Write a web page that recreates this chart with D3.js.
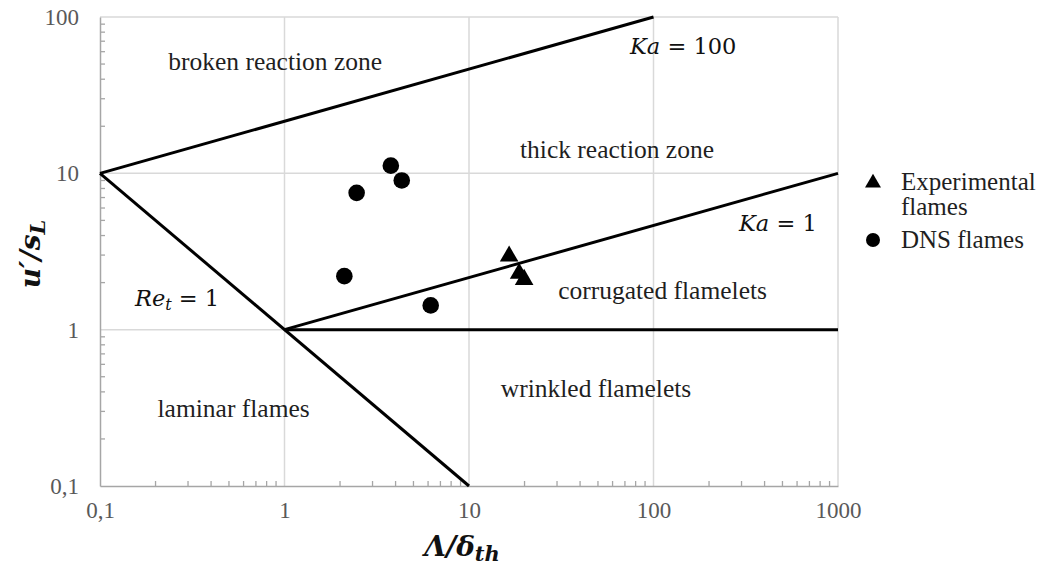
<!DOCTYPE html>
<html>
<head>
<meta charset="utf-8">
<script src="https://cdn.jsdelivr.net/npm/d3@7/dist/d3.min.js"></script>
<style>
  html, body { margin: 0; padding: 0; background: #fff; }
  svg { display: block; }
  .tick text { font-family: "Liberation Serif", serif; fill: #595959; }
</style>
</head>
<body>
<svg id="chart" width="1040" height="574"></svg>
<script>
// Regime boundaries of the turbulent premixed combustion diagram (Λ/δth, u'/sL)
const lineKa100 = [[0.1, 10], [100, 100]];
const lineKa1 = [[1, 1], [1000, 10]];
const lineRe1 = [[0.1, 10], [10, 0.1]];
const lineUnity = [[1, 1], [1000, 1]];

// Flame data sets
const dnsFlames = [[2.11, 2.2], [2.46, 7.5], [3.77, 11.2], [4.32, 9.0], [6.2, 1.43]];
const expFlames = [[16.5, 2.95], [18.7, 2.29], [19.9, 2.09]];

// Axis ticks
const xTicks = [0.1, 1, 10, 100, 1000];
const yTicks = [0.1, 1, 10, 100];

// Regime names
const regimeLabels = [
  { text: "broken reaction zone", x: 0.89, y: 45.9 },
  { text: "thick reaction zone", x: 63.4, y: 12.5 },
  { text: "corrugated flamelets", x: 112, y: 1.57 },
  { text: "wrinkled flamelets", x: 48.8, y: 0.371 },
  { text: "laminar flames", x: 0.53, y: 0.276 }
];

const svg = d3.select("#chart");
const x = d3.scaleLog().domain([0.1, 1000]).range([100, 838]);
const y = d3.scaleLog().domain([0.1, 100]).range([486, 17]);
const fmt = d => String(d).replace(".", ",");

// Gridlines at every decade
const grid = svg.append("g");
grid.selectAll("line.gx").data(xTicks.slice(1)).join("line")
  .attr("x1", d => x(d)).attr("x2", d => x(d))
  .attr("y1", y(0.1)).attr("y2", y(100))
  .attr("stroke", "#d9d9d9").attr("stroke-width", 1.5);
grid.selectAll("line.gy").data(yTicks.slice(1)).join("line")
  .attr("x1", x(0.1)).attr("x2", x(1000))
  .attr("y1", d => y(d)).attr("y2", d => y(d))
  .attr("stroke", "#d9d9d9").attr("stroke-width", 1.5);

// Minor ticks (2..9 within each decade)
const minor = (lo, hi) => {
  const out = [];
  for (let e = lo; e < hi; e++) for (let m = 2; m <= 9; m++) out.push(m * Math.pow(10, e));
  return out;
};
svg.append("g").selectAll("line").data(minor(-1, 3)).join("line")
  .attr("x1", d => x(d)).attr("x2", d => x(d))
  .attr("y1", y(0.1)).attr("y2", y(0.1) - 5)
  .attr("stroke", "#a6a6a6").attr("stroke-width", 1.3);
svg.append("g").selectAll("line").data(minor(-1, 2)).join("line")
  .attr("x1", x(0.1)).attr("x2", x(0.1) + 5)
  .attr("y1", d => y(d)).attr("y2", d => y(d))
  .attr("stroke", "#a6a6a6").attr("stroke-width", 1.3);

// Axes
const xAxis = svg.append("g").attr("transform", `translate(0,${y(0.1)})`)
  .call(d3.axisBottom(x).tickValues(xTicks).tickFormat(fmt).tickSize(0).tickPadding(16));
const yAxis = svg.append("g").attr("transform", `translate(${x(0.1)},0)`)
  .call(d3.axisLeft(y).tickValues(yTicks).tickFormat(fmt).tickSize(0).tickPadding(21));
[xAxis, yAxis].forEach(a => {
  a.select(".domain").attr("stroke", "#a6a6a6").attr("stroke-width", 1.5);
  a.selectAll(".tick text").attr("font-size", 23);
});

// Regime boundary lines
const line = d3.line().x(d => x(d[0])).y(d => y(d[1]));
svg.append("g").selectAll("path")
  .data([lineKa100, lineKa1, lineRe1, lineUnity]).join("path")
  .attr("d", line).attr("fill", "none")
  .attr("stroke", "#000").attr("stroke-width", 3);

// Regime names
svg.append("g").selectAll("text").data(regimeLabels).join("text")
  .attr("x", d => x(d.x)).attr("y", d => y(d.y))
  .attr("text-anchor", "middle")
  .attr("font-family", "'Liberation Serif', serif")
  .attr("font-size", 25.5).attr("fill", "#1f1f1f")
  .text(d => d.text);

// Dimensionless-number labels
const mathFont = "'DejaVu Serif', serif";
function mathLabel(px, py, parts) {
  const t = svg.append("text").attr("x", px).attr("y", py)
    .attr("font-family", mathFont).attr("font-size", 22.5).attr("fill", "#111");
  parts.forEach(p => {
    const s = t.append("tspan").text(p.t);
    if (p.i) s.attr("font-style", "italic");
    if (p.sub) s.attr("baseline-shift", "-25%").attr("font-size", 16);
  });
  return t;
}
mathLabel(630, 54, [{ t: "Ka", i: 1 }, { t: " = 100" }]);
mathLabel(739, 231, [{ t: "Ka", i: 1 }, { t: " = 1" }]);
mathLabel(135, 306, [{ t: "Re", i: 1 }, { t: "t", i: 1, sub: 1 }, { t: "  = 1" }]);

// Flame markers
svg.append("g").selectAll("circle").data(dnsFlames).join("circle")
  .attr("cx", d => x(d[0])).attr("cy", d => y(d[1])).attr("r", 8.3).attr("fill", "#000");
const tri = d3.symbol().type(d3.symbolTriangle).size(150);
svg.append("g").selectAll("path").data(expFlames).join("path")
  .attr("transform", d => `translate(${x(d[0])},${y(d[1])})`)
  .attr("d", tri).attr("fill", "#000");

// Legend
const lg = svg.append("g").attr("font-family", "'Liberation Serif', serif")
  .attr("font-size", 25).attr("fill", "#1f1f1f");
lg.append("path").attr("transform", "translate(873,183)")
  .attr("d", d3.symbol().type(d3.symbolTriangle).size(110)).attr("fill", "#000");
lg.append("text").attr("x", 901).attr("y", 190).text("Experimental");
lg.append("text").attr("x", 901).attr("y", 215).text("flames");
lg.append("circle").attr("cx", 873).attr("cy", 240).attr("r", 7).attr("fill", "#000");
lg.append("text").attr("x", 901).attr("y", 248).text("DNS flames");

// Axis titles
const xt = svg.append("text").attr("x", 462).attr("y", 556).attr("text-anchor", "middle")
  .attr("font-family", mathFont).attr("font-size", 28).attr("font-weight", "bold")
  .attr("font-style", "italic").attr("fill", "#111");
xt.append("tspan").text("Λ/δ");
xt.append("tspan").text("th").attr("baseline-shift", "-25%").attr("font-size", 21);

const yt = svg.append("text").attr("transform", "translate(40,254) rotate(-90)")
  .attr("text-anchor", "middle")
  .attr("font-family", mathFont).attr("font-size", 28).attr("font-weight", "bold")
  .attr("font-style", "italic").attr("fill", "#111");
yt.append("tspan").text("u′/s");
yt.append("tspan").text("L").attr("baseline-shift", "-25%").attr("font-size", 21);
</script>
</body>
</html>
